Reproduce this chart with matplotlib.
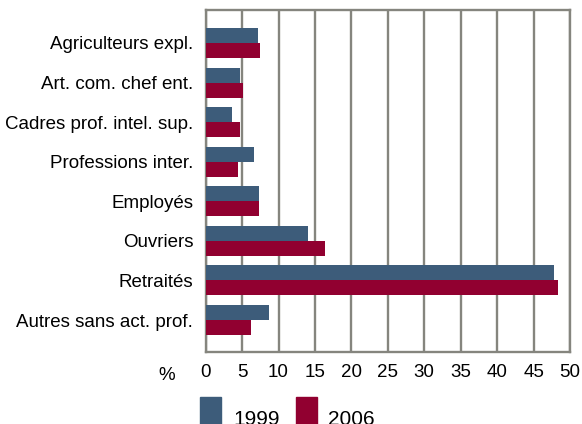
import numpy as np
import matplotlib
matplotlib.use("Agg")
import matplotlib.pyplot as plt
from matplotlib.patches import Rectangle

plt.rcParams['font.family'] = ['Liberation Sans', 'DejaVu Sans']

categories = ["Agriculteurs expl.", "Art. com. chef ent.", "Cadres prof. intel. sup.",
              "Professions inter.", "Employés", "Ouvriers", "Retraités",
              "Autres sans act. prof."]
v1999 = [7.2, 4.7, 3.6, 6.6, 7.3, 14.1, 47.8, 8.7]
v2006 = [7.45, 5.1, 4.7, 4.45, 7.3, 16.4, 48.3, 6.2]
series_labels = ["1999", "2006"]
xticks = [0, 5, 10, 15, 20, 25, 30, 35, 40, 45, 50]

c1999 = "#3d5c7a"
c2006 = "#910030"
gridc = "#85857e"

W, H = 582, 424
fig = plt.figure(figsize=(W / 100, H / 100), dpi=100)
ax = fig.add_axes([205.7 / W, 1 - 351.7 / H, (570 - 205.7) / W, (351.7 - 10.3) / H])

y = np.arange(len(categories))
h = 0.38
ax.barh(y - h / 2, v1999, height=h, color=c1999, zorder=3)
ax.barh(y + h / 2, v2006, height=h, color=c2006, zorder=3)

ax.set_xlim(0, 50)
ax.set_ylim(len(categories) - 1 + 0.80, -0.826)
ax.set_xticks(xticks)
ax.set_xticklabels([str(t) for t in xticks])
ax.set_yticks(y)
ax.set_yticklabels(categories)
ax.tick_params(axis='both', length=0, labelsize=13.5, colors='black')
ax.tick_params(axis='x', pad=8.5)
ax.tick_params(axis='y', pad=9)
ax.xaxis.grid(True, color=gridc, linewidth=1.7, zorder=0)
ax.set_axisbelow(True)
for s in ax.spines.values():
    s.set_color(gridc)
    s.set_linewidth(1.7)

# "%" label left of the x tick labels
fig.text(167 / W, 1 - 375 / H, "%", fontsize=13.5, ha='center', va='center')

# legend drawn at bottom (partially cut as in reference)
for x0, col, lab, tx in [(200, c1999, series_labels[0], 233), (296, c2006, series_labels[1], 328)]:
    fig.patches.append(Rectangle((x0 / W, 1 - 432 / H), 21 / W, 35 / H,
                                 transform=fig.transFigure, color=col))
    fig.text(tx / W, 1 - 425 / H, lab, fontsize=15, ha='left', va='baseline')

fig.savefig("out.png", dpi=100)
